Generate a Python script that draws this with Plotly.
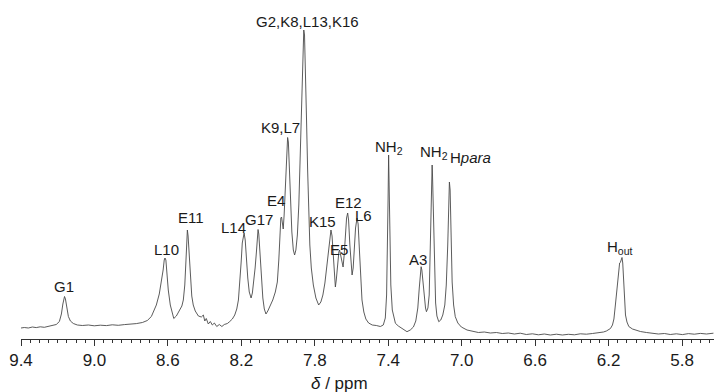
import plotly.graph_objects as go

# 1H NMR spectrum: chemical shift (ppm) and intensity (a.u.)
shift_ppm = [
    9.400, 9.382, 9.360, 9.338, 9.317, 9.295, 9.273, 9.251, 9.230, 9.208,
    9.191, 9.180, 9.172, 9.167, 9.163, 9.158, 9.151, 9.142, 9.131, 9.115,
    9.093, 9.066, 9.033, 9.001, 8.968, 8.935, 8.903, 8.870, 8.837, 8.805,
    8.772, 8.739, 8.712, 8.690, 8.679, 8.663, 8.647, 8.636, 8.626, 8.620,
    8.616, 8.611, 8.606, 8.598, 8.587, 8.576, 8.568, 8.554, 8.538, 8.524,
    8.516, 8.508, 8.502, 8.498, 8.494, 8.490, 8.484, 8.478, 8.470, 8.462,
    8.451, 8.434, 8.418, 8.407, 8.399, 8.391, 8.380, 8.369, 8.358, 8.347,
    8.334, 8.320, 8.306, 8.293, 8.276, 8.263, 8.249, 8.236, 8.225, 8.216,
    8.208, 8.201, 8.195, 8.189, 8.185, 8.179, 8.173, 8.165, 8.157, 8.147,
    8.140, 8.132, 8.125, 8.118, 8.113, 8.109, 8.105, 8.099, 8.091, 8.083,
    8.075, 8.066, 8.056, 8.042, 8.029, 8.015, 8.004, 7.996, 7.990, 7.985,
    7.981, 7.977, 7.972, 7.967, 7.962, 7.956, 7.951, 7.948, 7.944, 7.939,
    7.932, 7.925, 7.917, 7.910, 7.903, 7.895, 7.887, 7.880, 7.874, 7.869,
    7.864, 7.860, 7.856, 7.850, 7.845, 7.839, 7.834, 7.827, 7.819, 7.808,
    7.794, 7.779, 7.767, 7.756, 7.745, 7.734, 7.726, 7.718, 7.712, 7.706,
    7.699, 7.692, 7.688, 7.683, 7.676, 7.669, 7.665, 7.658, 7.651, 7.646,
    7.640, 7.634, 7.627, 7.621, 7.616, 7.609, 7.602, 7.597, 7.591, 7.585,
    7.578, 7.570, 7.564, 7.557, 7.549, 7.543, 7.533, 7.522, 7.507, 7.487,
    7.465, 7.443, 7.427, 7.416, 7.409, 7.404, 7.401, 7.398, 7.395, 7.391,
    7.386, 7.378, 7.370, 7.361, 7.345, 7.323, 7.298, 7.280, 7.263, 7.250,
    7.239, 7.231, 7.225, 7.221, 7.217, 7.210, 7.203, 7.197, 7.192, 7.184,
    7.177, 7.172, 7.167, 7.163, 7.161, 7.159, 7.154, 7.149, 7.142, 7.135,
    7.125, 7.114, 7.103, 7.092, 7.084, 7.076, 7.071, 7.067, 7.063, 7.059,
    7.052, 7.044, 7.035, 7.021, 7.002, 6.971, 6.942, 6.909, 6.877, 6.844,
    6.811, 6.779, 6.746, 6.713, 6.681, 6.648, 6.615, 6.582, 6.550, 6.517,
    6.484, 6.452, 6.419, 6.386, 6.354, 6.321, 6.288, 6.256, 6.228, 6.212,
    6.190, 6.179, 6.171, 6.163, 6.155, 6.147, 6.140, 6.136, 6.131, 6.127,
    6.123, 6.118, 6.113, 6.108, 6.100, 6.090, 6.070, 6.049, 6.027, 5.994,
    5.962, 5.929, 5.896, 5.864, 5.831, 5.798, 5.765, 5.733, 5.700, 5.667,
    5.629,
]

intensity = [
    7.0, 7.5, 7.0, 8.0, 7.4, 8.2, 7.7, 8.5, 9.2, 10.5,
    13.5, 21.0, 31.0, 37.0, 38.5, 36.0, 27.0, 18.5, 14.0, 11.5,
    10.0, 9.5, 10.0, 9.2, 9.8, 9.4, 10.2, 9.7, 10.4, 10.8,
    11.4, 12.5, 14.5, 18.5, 23.0, 30.0, 41.0, 52.0, 65.0, 75.0,
    77.0, 75.0, 63.0, 45.0, 30.0, 21.0, 16.5, 19.0, 25.0, 29.0,
    35.0, 50.0, 73.0, 95.0, 105.0, 99.0, 77.0, 55.0, 39.0, 30.0,
    24.0, 19.0, 18.0, 20.0, 14.0, 16.5, 11.0, 13.5, 10.0, 12.0,
    8.5, 10.5, 8.5, 10.5, 11.5, 13.5, 16.0, 20.0, 26.0, 35.0,
    51.0, 73.0, 92.0, 101.0, 102.0, 95.0, 77.0, 57.0, 43.0, 37.0,
    42.0, 53.0, 67.0, 83.0, 99.0, 105.5, 101.0, 83.0, 56.0, 37.0,
    26.0, 21.0, 24.0, 29.0, 35.0, 43.0, 53.0, 75.0, 100.0, 117.0,
    118.0, 111.0, 106.0, 120.0, 145.0, 175.0, 195.0, 197.5, 193.0, 165.0,
    130.0, 103.0, 85.0, 80.0, 85.0, 100.0, 130.0, 175.0, 220.0, 265.0,
    295.0, 305.0, 300.0, 265.0, 215.0, 165.0, 119.0, 90.0, 67.0, 50.0,
    37.0, 30.0, 33.0, 40.0, 52.0, 70.0, 85.0, 99.0, 105.0, 99.0,
    75.0, 55.0, 48.0, 55.0, 73.0, 83.0, 85.0, 79.0, 70.0, 68.0,
    80.0, 97.0, 117.0, 122.0, 115.0, 90.0, 67.0, 60.0, 67.0, 85.0,
    107.0, 117.0, 111.0, 85.0, 53.0, 35.0, 23.0, 16.0, 12.0, 10.0,
    9.5, 8.5, 10.0, 17.0, 40.0, 80.0, 135.0, 180.0, 155.0, 95.0,
    50.0, 25.0, 17.0, 11.7, 9.0, 6.5, 3.3, 5.0, 8.0, 14.0,
    27.0, 47.0, 62.0, 68.3, 65.0, 50.0, 35.0, 27.0, 23.3, 27.0,
    40.0, 75.0, 130.0, 165.0, 170.0, 160.0, 115.0, 60.0, 32.0, 19.0,
    13.3, 15.0, 20.0, 30.0, 50.0, 90.0, 135.0, 153.0, 145.0, 100.0,
    53.0, 30.0, 18.3, 12.0, 8.0, 5.0, 4.0, 2.5, 3.0, 2.0,
    2.5, 1.5, 2.0, 1.0, 1.8, 0.5, 1.2, 0.2, 1.0, 0.0,
    0.8, 0.0, 0.7, 0.2, 1.2, 0.8, 1.5, 2.0, 3.0, 4.0,
    6.5, 10.0, 16.0, 30.0, 47.0, 63.0, 72.0, 72.5, 76.0, 77.5,
    72.0, 55.0, 35.0, 20.0, 13.0, 8.5, 6.0, 4.5, 3.5, 2.5,
    1.5, 1.0, 1.5, 0.5, 1.2, 0.4, 1.4, 0.8, 1.6, 1.0,
    1.8,
]

# Peak assignments: label text and where it sits (ppm, intensity)
peak_labels = ["G1", "L10", "E11", "L14", "G17", "E4", "K9,L7",
               "G2,K8,L13,K16", "K15", "E5", "E12", "L6", "NH<sub>2</sub>",
               "A3", "NH<sub>2</sub>", "H<i>para</i>", "H<sub>out</sub>"]
label_ppm = [9.164, 8.609, 8.475, 8.244, 8.102, 8.012, 7.988,
             7.838, 7.759, 7.669, 7.615, 7.533, 7.394,
             7.236, 7.149, 6.953, 6.139]
label_int = [49, 85.5, 118, 107.5, 116, 134.5, 207.5,
             314, 113.5, 86, 132.5, 119.5, 187.5,
             76, 182.5, 177.5, 88]

tick_ppm = [9.4, 9.0, 8.6, 8.2, 7.8, 7.4, 7.0, 6.6, 6.2, 5.8]
tick_text = ["9.4", "9.0", "8.6", "8.2", "7.8", "7.4", "7.0", "6.6", "6.2", "5.8"]

FONT = "Liberation Sans, Arial, sans-serif"

fig = go.Figure()
fig.add_trace(go.Scatter(
    x=shift_ppm, y=intensity, mode="lines",
    line=dict(color="#4a4a4a", width=0.9),
    hoverinfo="skip", showlegend=False,
))

for txt, px, py in zip(peak_labels, label_ppm, label_int):
    fig.add_annotation(
        x=px, y=py, text=txt, showarrow=False,
        xanchor="center", yanchor="middle",
        font=dict(family=FONT, size=15, color="#1a1a1a"),
    )

# axis title drawn as an annotation so it can sit left of centre
fig.add_annotation(
    xref="paper", yref="paper", x=0.459, y=0,
    text="<i>δ</i> / ppm", showarrow=False,
    xanchor="center", yanchor="middle", yshift=-44,
    font=dict(family=FONT, size=17, color="#1a1a1a"),
)

fig.update_layout(
    width=714, height=392,
    margin=dict(l=21, r=0, t=0, b=53),
    paper_bgcolor="white", plot_bgcolor="white",
    xaxis=dict(
        range=[9.40, 5.626],
        tickvals=tick_ppm, ticktext=tick_text,
        ticks="outside", ticklen=6, tickwidth=1, tickcolor="#333",
        showline=True, linecolor="#333", linewidth=1,
        showgrid=False, zeroline=False,
        tickfont=dict(family=FONT, size=17, color="#1a1a1a"),
        minor=dict(dtick=0.05, tick0=5.8, ticks="outside", ticklen=3,
                   tickcolor="#333", showgrid=False),
    ),
    yaxis=dict(range=[-4, 335], visible=False),
)

fig.write_html("out.html")
